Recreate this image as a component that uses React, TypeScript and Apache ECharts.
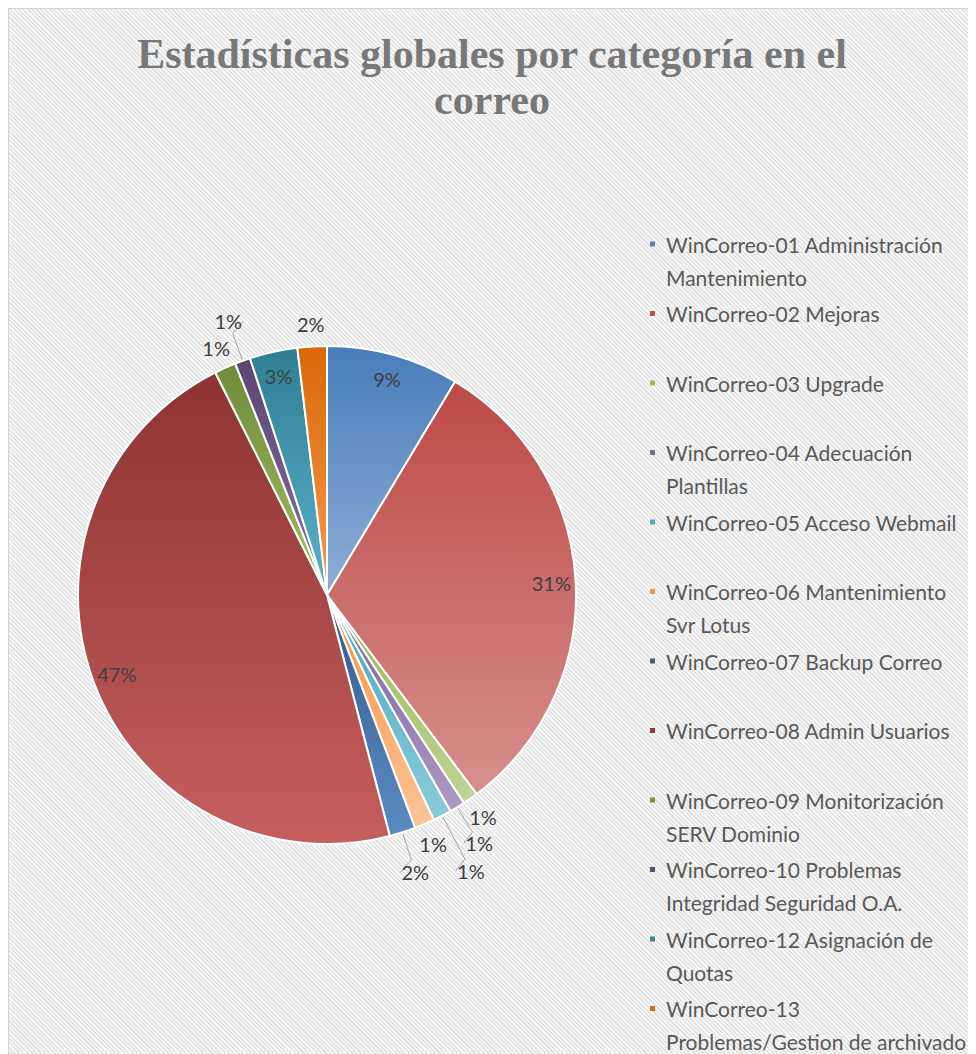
import React, { useEffect, useRef } from 'react';
import * as echarts from 'echarts';

const titleText = 'Estadísticas globales por categoría en el\ncorreo';

const categories = [
  'WinCorreo-01 Administración\nMantenimiento',
  'WinCorreo-02 Mejoras',
  'WinCorreo-03 Upgrade',
  'WinCorreo-04 Adecuación\nPlantillas',
  'WinCorreo-05 Acceso Webmail',
  'WinCorreo-06 Mantenimiento\nSvr Lotus',
  'WinCorreo-07 Backup Correo',
  'WinCorreo-08 Admin Usuarios',
  'WinCorreo-09 Monitorización\nSERV Dominio',
  'WinCorreo-10 Problemas\nIntegridad Seguridad O.A.',
  'WinCorreo-12 Asignación de\nQuotas',
  'WinCorreo-13\nProblemas/Gestion de archivado',
];

const values = [8.6, 31.1, 1.0, 1.0, 1.2, 1.3, 1.7, 46.6, 1.4, 1.0, 3.1, 1.9];

const colors = [
  '#4F81BD', '#C0504D', '#9BBB59', '#8064A2', '#4BACC6', '#F79646',
  '#366092', '#953735', '#76923C', '#5F497A', '#31859C', '#E46C0A',
];

function hexToHsl(hex: string) {
  const r = parseInt(hex.slice(1, 3), 16) / 255;
  const g = parseInt(hex.slice(3, 5), 16) / 255;
  const b = parseInt(hex.slice(5, 7), 16) / 255;
  const max = Math.max(r, g, b), min = Math.min(r, g, b);
  let h = 0, s = 0;
  const l = (max + min) / 2;
  if (max !== min) {
    const d = max - min;
    s = l > 0.5 ? d / (2 - max - min) : d / (max + min);
    if (max === r) h = (g - b) / d + (g < b ? 6 : 0);
    else if (max === g) h = (b - r) / d + 2;
    else h = (r - g) / d + 4;
    h /= 6;
  }
  return [h, s, l];
}
function hslToHex(h: number, s: number, l: number) {
  const hue2rgb = (p: number, q: number, t: number) => {
    if (t < 0) t += 1;
    if (t > 1) t -= 1;
    if (t < 1 / 6) return p + (q - p) * 6 * t;
    if (t < 1 / 2) return q;
    if (t < 2 / 3) return p + (q - p) * (2 / 3 - t) * 6;
    return p;
  };
  let r, g, b;
  if (s === 0) { r = g = b = l; } else {
    const q = l < 0.5 ? l * (1 + s) : l + s - l * s;
    const p = 2 * l - q;
    r = hue2rgb(p, q, h + 1 / 3);
    g = hue2rgb(p, q, h);
    b = hue2rgb(p, q, h - 1 / 3);
  }
  const hx = (v: number) => Math.round(v * 255).toString(16).padStart(2, '0');
  return '#' + hx(r) + hx(g) + hx(b);
}
function lighten(hex: string, dl: number) {
  const [h, s, l] = hexToHsl(hex);
  return hslToHex(h, s, Math.min(0.95, Math.max(0, l + dl)));
}

export default function App() {
  const ref = useRef<HTMLDivElement>(null);
  useEffect(() => {
    document.documentElement.style.overflow = 'hidden';
    const chart = echarts.init(ref.current!, undefined, { renderer: 'svg' });
    const total = values.reduce((a, b) => a + b, 0);
    const pct = values.map((v) => (v / total) * 100);
    const R = 249;
    const center = [319, 587];
    const INSIDE_MIN = 2.5;

    // "best fit" placement of the small outside labels: radial, pushed outwards on collision
    const mids: number[] = [];
    let cum = 0;
    values.forEach((v) => {
      mids.push(((cum + v / 2) / total) * Math.PI * 2);
      cum += v;
    });
    const LW = 28, LH = 20;
    const placed: { x: number; y: number }[] = [];
    const layoutInfo: Record<number, { x: number; y: number; pushed: boolean; line: number[][] }> = {};
    values.forEach((_, i) => {
      if (pct[i] >= INSIDE_MIN) return;
      const a = mids[i];
      const sx = Math.sin(a), sy = -Math.cos(a);
      const radii = [R + 22, R + 42, R + 62, R + 82];
      let chosen = radii[radii.length - 1];
      for (const rr of radii) {
        const x = center[0] + rr * sx, y = center[1] + rr * sy;
        const hit = placed.some((p) => Math.abs(p.x - x) < LW && Math.abs(p.y - y) < LH);
        if (!hit) { chosen = rr; break; }
      }
      const x = center[0] + chosen * sx, y = center[1] + chosen * sy;
      placed.push({ x, y });
      const e = [center[0] + (R + 1) * sx, center[1] + (R + 1) * sy];
      const m = [center[0] + (chosen - 13) * sx, center[1] + (chosen - 13) * sy];
      const side = sx >= 0 ? -1 : 1;
      layoutInfo[i] = {
        x, y, pushed: chosen > R + 22,
        line: [e, m, [x + side * (LW / 2 + 1), y]],
      };
    });

    const rich: any = {
      t: { fontFamily: 'Lato', fontSize: 21, lineHeight: 33, color: '#595959' },
      g: { width: 11 },
      ind: { width: 16, height: 33, lineHeight: 33 },
    };
    colors.forEach((c, i) => {
      rich['m' + i] = { width: 5, height: 5, backgroundColor: c, verticalAlign: 'middle' };
    });

    const grad = (c: string) =>
      new echarts.graphic.LinearGradient(0, 0, 0, 1, [
        { offset: 0, color: lighten(c, -0.02) },
        { offset: 1, color: lighten(c, 0.17) },
      ]);

    const labelFont = { fontFamily: 'Lato', fontSize: 20, color: '#404040' };

    chart.setOption({
      animation: false,
      title: {
        text: titleText,
        left: 'center',
        top: 18,
        textStyle: {
          fontFamily: 'Liberation Serif',
          fontWeight: 'bold',
          fontSize: 42,
          lineHeight: 46,
          color: '#787878',
        },
      },
      legend: {
        orient: 'vertical',
        left: 636,
        top: 225.5,
        height: 1400,
        itemGap: 9.5,
        itemWidth: 0,
        itemHeight: 0,
        padding: 0,
        icon: 'rect',
        selectedMode: false,
        data: categories,
        formatter: (name: string) => {
          const i = categories.indexOf(name);
          const parts = name.split('\n');
          return `{m${i}|}{g|}{t|${parts[0]}}\n{ind|}{t|${parts[1] ?? ' '}}`;
        },
        textStyle: { rich },
      },
      series: [
        {
          type: 'pie',
          center,
          radius: [0, R],
          startAngle: 90,
          clockwise: true,
          silent: true,
          avoidLabelOverlap: false,
          itemStyle: { borderColor: '#ffffff', borderWidth: 2 },
          label: {
            position: 'outside',
            formatter: (p: any) => Math.round(p.percent) + '%',
            ...labelFont,
          },
          labelLine: { length: 8, length2: 4, lineStyle: { color: '#a6a6a6', width: 1 } },
          labelLayout: (params: any) => {
            const info = layoutInfo[params.dataIndex];
            if (!info) return {};
            return {
              x: info.x,
              y: info.y,
              align: 'center',
              verticalAlign: 'middle',
              labelLinePoints: info.line,
            };
          },
          data: categories.map((n, i) => ({
            name: n,
            value: values[i],
            itemStyle: { color: grad(colors[i]) },
            label: { show: pct[i] < INSIDE_MIN },
            labelLine: { show: !!(layoutInfo[i] && layoutInfo[i].pushed) },
          })),
        },
        {
          type: 'pie',
          center,
          radius: [R * 0.78, R],
          startAngle: 90,
          clockwise: true,
          silent: true,
          itemStyle: { color: 'rgba(0,0,0,0)', borderWidth: 0 },
          label: {
            position: 'inside',
            formatter: (p: any) => Math.round(p.percent) + '%',
            ...labelFont,
          },
          labelLine: { show: false },
          data: categories.map((n, i) => ({
            name: n,
            value: values[i],
            label: { show: pct[i] >= INSIDE_MIN },
          })),
        },
      ],
    });
    return () => chart.dispose();
  }, []);
  return (
    <div
      ref={ref}
      style={{
        width: 968,
        height: 1046,
        background:
          'repeating-linear-gradient(45deg, #f9f9f9 0px, #f9f9f9 1.6px, #e2e2e2 1.6px, #e2e2e2 3.1px)',
        boxShadow: 'inset 1px 1px 0 #d4d4d4',
      }}
    />
  );
}
